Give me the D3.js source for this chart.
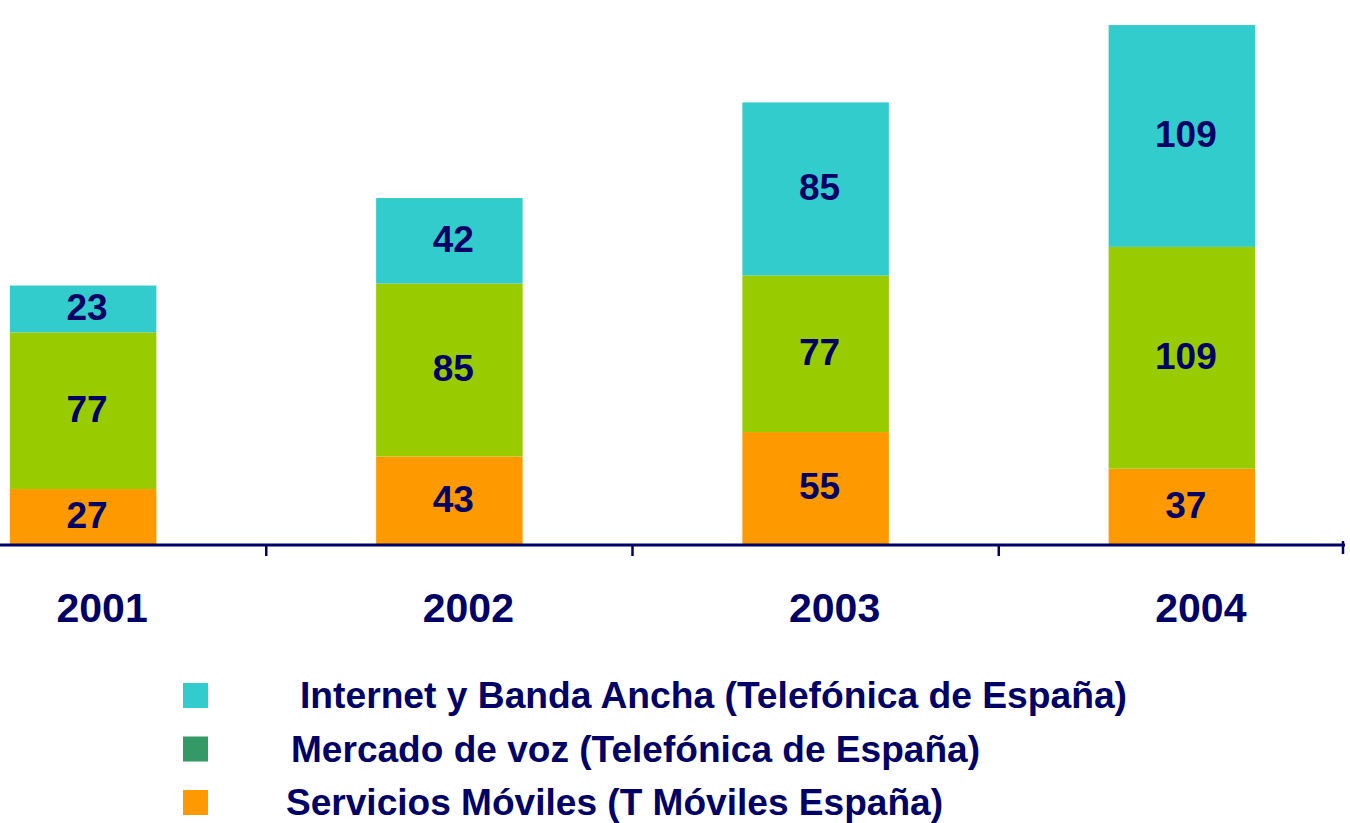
<!DOCTYPE html>
<html>
<head>
<meta charset="utf-8">
<script src="https://cdn.jsdelivr.net/npm/d3@7"></script>
<style>
  body { margin: 0; background: #fff; }
  svg { display: block; font-family: "Liberation Sans", Arial, sans-serif; font-weight: bold; }
</style>
</head>
<body>
<svg></svg>
<script>
var svgWidth = 1350, svgHeight = 823;

// data (stack order bottom -> top)
var years = ["2001", "2002", "2003", "2004"];
var moviles = [27, 43, 55, 37];
var voz = [77, 85, 77, 109];
var internet = [23, 42, 85, 109];

var seriesNames = [
    "Servicios Móviles (T Móviles España)",
    "Mercado de voz (Telefónica de España)",
    "Internet y Banda Ancha (Telefónica de España)"
];

var navy = "#000066";
var barColors = ["#FF9900", "#99CC00", "#33CCCC"];
var legendColors = ["#FF9900", "#339966", "#33CCCC"];

var svg = d3.select("svg")
            .attr("width", svgWidth)
            .attr("height", svgHeight);

var rows = years.map(function(y, i) {
    return { year: y, moviles: moviles[i], voz: voz[i], internet: internet[i] };
});

var stacked = d3.stack().keys(["moviles", "voz", "internet"])(rows);

// chart is cropped on the left in the original, so the band range starts off-canvas
var x = d3.scaleBand()
          .domain(years)
          .range([-100, 1365])
          .paddingInner(0.6)
          .paddingOuter(0.3);

var baseY = 544;
var y = d3.scaleLinear()
          .domain([0, 255])
          .range([baseY, baseY - 255 * 2.035]);

var layers = svg.selectAll(".layer")
                .data(stacked)
                .enter().append("g")
                    .attr("class", "layer")
                    .attr("fill", function(d, i) { return barColors[i]; });

layers.selectAll("rect")
      .data(function(d) { return d; })
      .enter().append("rect")
          .attr("x", function(d) { return x(d.data.year); })
          .attr("width", x.bandwidth())
          .attr("y", function(d) { return y(d[1]); })
          .attr("height", function(d) { return y(d[0]) - y(d[1]); });

layers.selectAll("text")
      .data(function(d) { return d; })
      .enter().append("text")
          .attr("x", function(d) { return x(d.data.year) + x.bandwidth() / 2 + 4; })
          .attr("y", function(d) { return (y(d[0]) + y(d[1])) / 2 - 2; })
          .attr("dy", "0.36em")
          .attr("text-anchor", "middle")
          .attr("fill", navy)
          .style("font-size", "37px")
          .text(function(d) { return d[1] - d[0]; });

// axis line with ticks between categories
var axisEnd = 1345;
svg.append("line")
   .attr("x1", 0).attr("x2", axisEnd)
   .attr("y1", baseY + 1).attr("y2", baseY + 1)
   .attr("stroke", navy)
   .attr("stroke-width", 3);

var step = x.step();
var tickXs = d3.range(1, years.length).map(function(k) { return x.range()[0] + k * step; });
svg.selectAll(".tick")
   .data(tickXs)
   .enter().append("line")
       .attr("class", "tick")
       .attr("x1", function(d) { return d; })
       .attr("x2", function(d) { return d; })
       .attr("y1", baseY)
       .attr("y2", baseY + 12)
       .attr("stroke", navy)
       .attr("stroke-width", 2.5);

svg.append("line")
   .attr("x1", axisEnd - 2).attr("x2", axisEnd - 2)
   .attr("y1", baseY - 3).attr("y2", baseY + 10)
   .attr("stroke", navy)
   .attr("stroke-width", 2.5);

svg.selectAll(".year")
   .data(years)
   .enter().append("text")
       .attr("class", "year")
       .attr("x", function(d) { return x(d) + x.bandwidth() / 2 + 19; })
       .attr("y", 622)
       .attr("text-anchor", "middle")
       .attr("fill", navy)
       .style("font-size", "41px")
       .text(function(d) { return d; });

// legend, top entry is the top of the stack
var legendOrder = [2, 1, 0];
var legendTextX = [300, 291, 286];
var legendTextLen = [827, 689, 657];

var legend = svg.selectAll(".legend")
                .data(legendOrder)
                .enter().append("g")
                    .attr("class", "legend")
                    .attr("transform", function(d, i) { return "translate(0," + (683 + i * 53.5) + ")"; });

legend.append("rect")
      .attr("x", 183)
      .attr("width", 25)
      .attr("height", 25)
      .attr("fill", function(d) { return legendColors[d]; });

legend.append("text")
      .attr("x", function(d, i) { return legendTextX[i]; })
      .attr("y", 25)
      .attr("fill", navy)
      .style("font-size", "37px")
      .attr("textLength", function(d, i) { return legendTextLen[i]; })
      .attr("lengthAdjust", "spacingAndGlyphs")
      .text(function(d) { return seriesNames[d]; });
</script>
</body>
</html>
